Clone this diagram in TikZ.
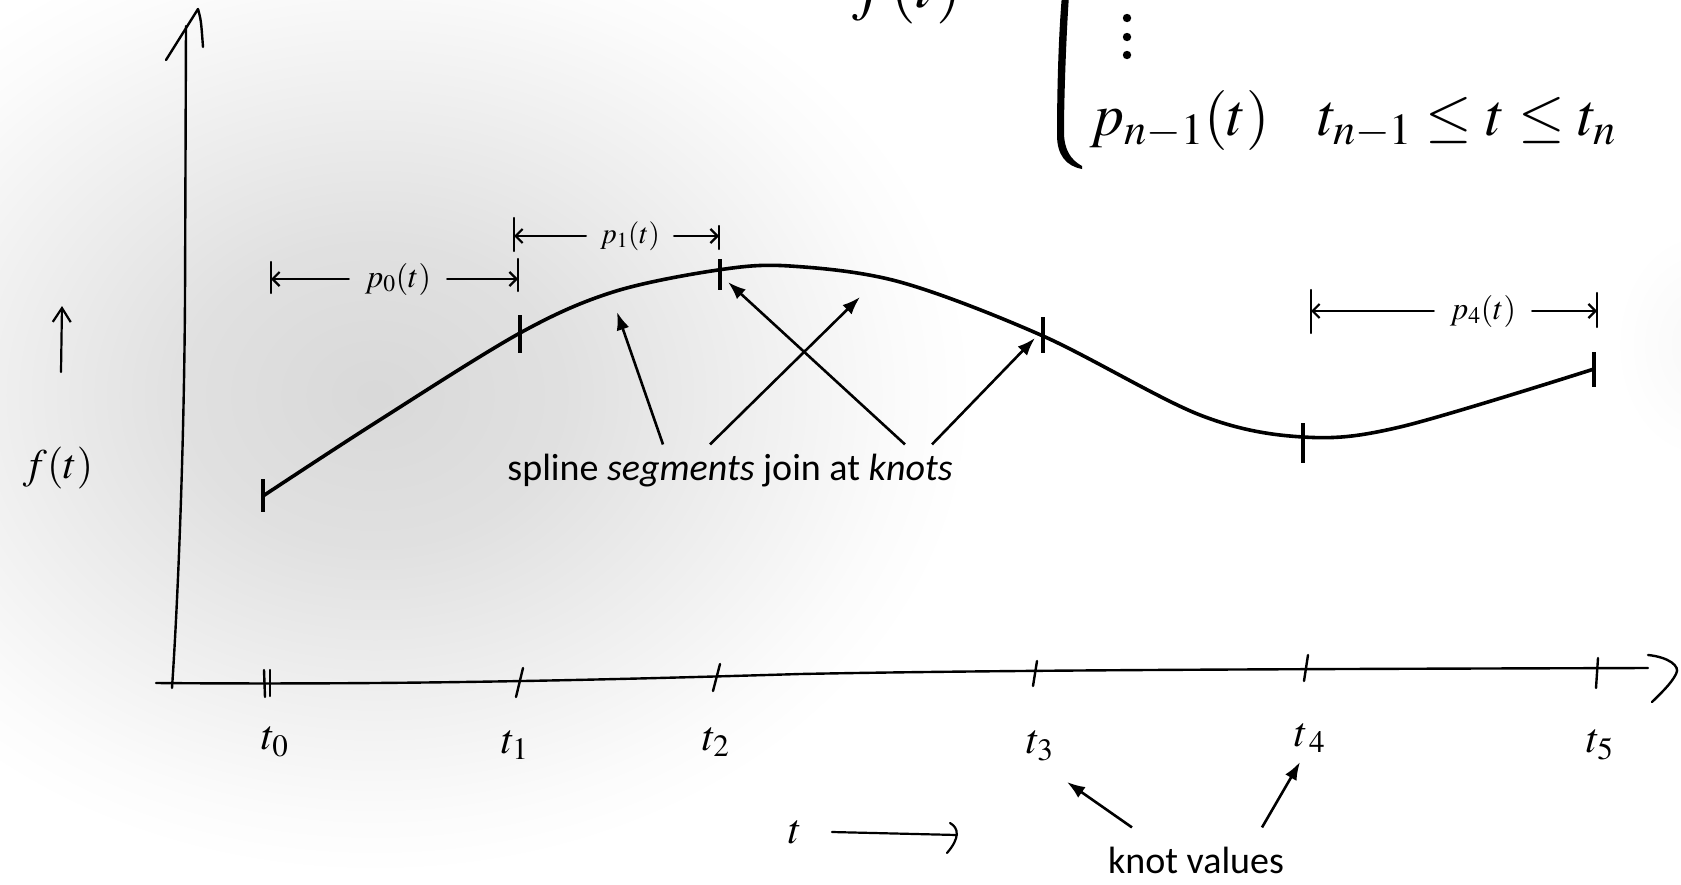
\RequirePackage{fix-cm}
\documentclass[tikz,border=0pt]{standalone}
\usepackage{mathptmx}
\usepackage[no-math]{fontspec}
\setmainfont{Carlito}
\usetikzlibrary{arrows.meta}
\pgfdeclareradialshading{glow}{\pgfpoint{0bp}{0bp}}{color(0bp)=(black!15); color(8bp)=(black!12); color(16bp)=(black!6); color(22bp)=(black!1.5); color(25bp)=(white); color(50bp)=(white)}
\tikzset{
  axisline/.style={line width=2.4pt, line cap=round, line join=round},
  curveline/.style={line width=3.6pt, line cap=round},
  knottick/.style={line width=3.2pt},
  axtick/.style={line width=2.4pt, line cap=round},
  hand/.style={line width=2.2pt, line cap=round, line join=round},
  dimarrow/.style={hand, -{Straight Barb[length=7pt,width=14pt]}},
  ann/.style={line width=2.6pt, -{Latex[length=18pt,width=13pt]}},
  ticklabel/.style={font=\fontsize{42}{42}\selectfont, inner sep=0pt},
  dimlabel/.style={inner sep=16pt},
  captext/.style={font=\fontsize{38}{38}\selectfont, inner sep=2pt},
  formula/.style={anchor=base west, inner sep=0pt},
}
\begin{document}
\begin{tikzpicture}[x=1pt,y=-1pt]
\useasboundingbox (0,0) rectangle (1681,884);
% background glow
\shade[shading=glow] (375,395) ellipse [x radius=600, y radius=480];
\shade[shading=glow, opacity=0.15] (1700,345) ellipse [x radius=90, y radius=120];

% formula (lower part visible)
\node[formula] (ftop) at (852,7) {\fontsize{66}{66}\selectfont$f(t)$};
\fill (1062,-5) .. controls (1058,40) and (1057,100) .. (1057,135) .. controls (1057,155) and (1066,166) .. (1082,169) -- (1082,166) .. controls (1071,160) and (1064,150) .. (1064,132) .. controls (1064,100) and (1066,40) .. (1069,-5) -- cycle;
\fill (1127,18) circle (4.2) (1127,37) circle (4.2) (1127,55) circle (4.2);
\node[formula] (row) at (1090,135) {\fontsize{60}{60}\selectfont$p_{n-1}(t)\hspace{48pt}t_{n-1}\le t\le t_n$};

% axes
\coordinate (ytip) at (198,9);
\draw[axisline] (172,688) .. controls (178,600) and (184,450) .. (185,300) -- (186,26);
\draw[axisline] (166,60) -- (ytip) .. controls (201,20) .. (203,47);
\coordinate (xend) at (1648,668);
\draw[axisline] (156,683) .. controls (400,685) and (600,680) .. (800,674) .. controls (1000,670) and (1300,669) .. (xend);
\draw[axisline] (1648,655) .. controls (1668,657) and (1681,666) .. (1676,674) .. controls (1671,684) and (1660,694) .. (1652,702);

% axis ticks
\draw[axtick] (264,670) -- (265,697);
\draw[axtick] (270,670) -- (270,696);
\draw[axtick] (523,668) -- (516,697);
\draw[axtick] (720,664) -- (713,691);
\draw[axtick] (1037,661) -- (1033,686);
\draw[axtick] (1308,655) -- (1304,681);
\draw[axtick] (1598,658) -- (1596,688);

% tick labels
\node[ticklabel] (lt0) at (275,742) {$t_0$};
\node[ticklabel] (lt1) at (515,745) {$t_1$};
\node[ticklabel] (lt2) at (716,742) {$t_2$};
\node[ticklabel] (lt3) at (1040,746) {$t_3$};
\node[ticklabel] (lt4) at (1310,738) {$t_{\,4}$};
\node[ticklabel] (lt5) at (1600,745) {$t_5$};

% t axis label
\node[ticklabel] (tax) at (795,832) {$t$};
\coordinate (tae) at (957,835);
\draw[hand] ([xshift=30pt]tax.east) -- (tae);
\draw[hand] ([shift={(-7,-12)}]tae) .. controls ([shift={(2,-7)}]tae) and ([shift={(3,3)}]tae) .. ([shift={(-10,18)}]tae);

% f(t) label
\node[ticklabel] (flab) at (58,468) {$f(t)$};
\coordinate (upb) at (61,372);
\coordinate (upt) at (62,306);
\draw[hand, -{Straight Barb[length=14pt,width=18pt]}] (upb) -- (upt);

% spline curve
\draw[curveline] plot[smooth, tension=0.55] coordinates {(263,496) (375,423) (520,333) (613,292) (718,270) (790,266) (900,282) (1043,336) (1200,415) (1303,437) (1400,427) (1594,369)};
\coordinate (k0) at (263,496);
\coordinate (k1) at (520,333);
\coordinate (k2) at (720,270);
\coordinate (k3) at (1043,336);
\coordinate (k4) at (1303,437);
\coordinate (k5) at (1594,369);
\draw[knottick] ([yshift=17pt]k0) -- ([yshift=-16pt]k0);
\draw[knottick] ([yshift=18pt]k1) -- ([yshift=-20pt]k1);
\draw[knottick] ([yshift=11pt]k2) -- ([yshift=-20pt]k2);
\draw[knottick] ([yshift=19pt]k3) -- ([yshift=-17pt]k3);
\draw[knottick] ([yshift=14pt]k4) -- ([yshift=-26pt]k4);
\draw[knottick] ([yshift=17pt]k5) -- ([yshift=-18pt]k5);

% dimension labels
\node[dimlabel, font=\fontsize{32}{32}\selectfont] (p0) at (398,279) {$p_0(t)$};
\coordinate (p0L) at (271,279);
\coordinate (p0R) at (518,279);
\draw[dimarrow] (p0.west) -- (p0L);
\draw[dimarrow] (p0.east) -- (p0R);
\draw[hand] ([yshift=17pt]p0L) -- ([yshift=-14pt]p0L);
\draw[hand] ([yshift=20pt]p0R) -- ([yshift=-12pt]p0R);

\node[dimlabel, inner sep=14pt, font=\fontsize{29}{29}\selectfont] (p1) at (630,236) {$p_1(t)$};
\coordinate (p1L) at (514,236);
\coordinate (p1R) at (719,236);
\draw[dimarrow] (p1.west) -- (p1L);
\draw[dimarrow] (p1.east) -- (p1R);
\draw[hand] ([yshift=18pt]p1L) -- ([yshift=-15pt]p1L);
\draw[hand] ([yshift=10pt]p1R) -- ([yshift=-13pt]p1R);

\node[dimlabel, font=\fontsize{32}{32}\selectfont] (p4) at (1483,311) {$p_4(t)$};
\coordinate (p4L) at (1311,311);
\coordinate (p4R) at (1597,311);
\draw[dimarrow] (p4.west) -- (p4L);
\draw[dimarrow] (p4.east) -- (p4R);
\draw[hand] ([yshift=21pt]p4L) -- ([yshift=-22pt]p4L);
\draw[hand] ([yshift=18pt]p4R) -- ([yshift=-16pt]p4R);

% annotation
\node[captext, anchor=base] (seg) at (730,480) {spline \textit{segments} join at \textit{knots}};
\coordinate (a1) at (617,312);
\coordinate (a2) at (860,297);
\coordinate (a3) at (728,282);
\coordinate (a4) at (1035,338);
\draw[ann] ([shift={(-67,-7)}]seg.north) -- (a1);
\draw[ann] ([shift={(-20,-7)}]seg.north) -- (a2);
\draw[ann] ([shift={(175,-7)}]seg.north) -- (a3);
\draw[ann] ([shift={(202,-7)}]seg.north) -- (a4);

\node[captext, anchor=base] (kv) at (1196,873) {knot values};
\coordinate (b1) at (1067,782);
\coordinate (b2) at (1300,762);
\draw[ann] ([shift={(-64,-17)}]kv.north) -- (b1);
\draw[ann] ([shift={(66,-17)}]kv.north) -- (b2);
\end{tikzpicture}
\end{document}
